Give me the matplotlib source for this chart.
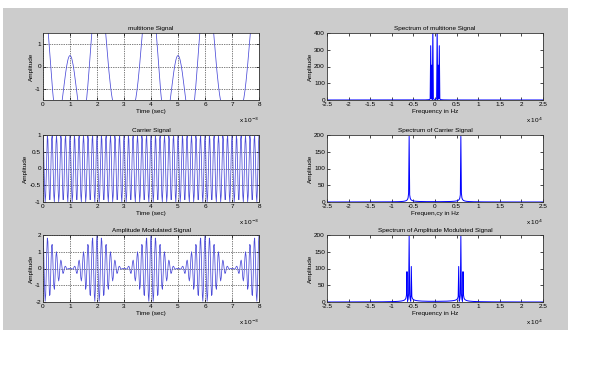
import numpy as np
import matplotlib
matplotlib.use('Agg')
import matplotlib.pyplot as plt
from matplotlib.patches import Rectangle

plt.rcParams['font.family'] = ['Liberation Sans', 'DejaVu Sans']

# ---- signal parameters ----
fs = 50000.0                      # sampling rate, Hz (spectrum spans +-2.5e4)
t_end = 8e-3                      # seconds
tone_freqs = [500.0, 750.0, 1000.0]      # multitone components, Hz
tone_amps = [2.17, 1.04, 1.62]
tone_phases = [0.0, np.pi / 2, 0.0]
carrier_freq = 6000.0
carrier_amp = 1.0
mod_freq = 500.0
mod_index = 1.0

titles = ["multitone Signal", "Spectrum of multitone Signal",
          "Carrier Signal", "Spectrum of Carrier Signal",
          "Amplitude Modulated Signal", "Spectrum of Amplitude Modulated Signal"]
freq_labels = ["Frequency in Hz", "Frequen,cy in Hz", "Frequency in Hz"]
time_yticks = [[-1, 0, 1], [-1, -0.5, 0, 0.5, 1], [-2, -1, 0, 1, 2]]
time_ylims = [(-1.5, 1.5), (-1, 1), (-2, 2)]
spec_yticks = [[0, 100, 200, 300, 400], [0, 50, 100, 150, 200], [0, 50, 100, 150, 200]]
time_xticks = [0, 1, 2, 3, 4, 5, 6, 7, 8]
freq_xticks = [-2.5, -2, -1.5, -1, -0.5, 0, 0.5, 1, 1.5, 2, 2.5]

t = np.arange(0, t_end + 1e-12, 1 / fs)
m = sum(a * np.cos(2 * np.pi * f * t + p) for f, a, p in zip(tone_freqs, tone_amps, tone_phases))
c = carrier_amp * np.cos(2 * np.pi * carrier_freq * t)
am = (1 + mod_index * np.cos(2 * np.pi * mod_freq * t)) * c
N = len(t)
freqs = np.fft.fftshift(np.fft.fftfreq(N, 1 / fs))
signals = [m, c, am]
spectra = [np.abs(np.fft.fftshift(np.fft.fft(s))) for s in signals]

fig = plt.figure(figsize=(6.02, 3.71), dpi=100)
fig.patch.set_facecolor('white')
fig.patches.append(Rectangle((3 / 602, 1 - 330 / 371), 565 / 602, 322 / 371,
                             transform=fig.transFigure, facecolor='#cccccc',
                             edgecolor='none', zorder=-10))

W, H = 602.0, 371.0
lefts = [43, 327]
tops = [33, 135, 235]
aw, ah = 216, 67
FS = 4.6

def style(ax):
    ax.tick_params(direction='in', length=2, width=0.5, labelsize=FS, pad=1.5,
                   top=True, right=True)
    for s in ax.spines.values():
        s.set_linewidth(0.6)
        s.set_color('#333333')

for i in range(3):
    # time domain
    ax = fig.add_axes([lefts[0] / W, 1 - (tops[i] + ah) / H, aw / W, ah / H])
    ax.plot(t, signals[i], color='#4a4ad8', lw=0.55)
    ax.set_xlim(0, t_end)
    ax.set_ylim(*time_ylims[i])
    ax.set_xticks([v * 1e-3 for v in time_xticks])
    ax.set_xticklabels([str(v) for v in time_xticks])
    ax.set_yticks(time_yticks[i])
    ax.set_yticklabels([('%g' % v) for v in time_yticks[i]])
    ax.grid(True, color='black', linestyle=(0, (1, 1.5)), linewidth=0.5)
    ax.set_title(titles[2 * i], fontsize=FS, pad=2.5)
    ax.set_xlabel("Time (sec)", fontsize=FS, labelpad=1.5)
    ax.set_ylabel("Amplitude", fontsize=FS, labelpad=1)
    ax.text(1.0, -0.24, r"x 10$^{-3}$", transform=ax.transAxes, fontsize=FS,
            ha='right', va='top')
    style(ax)

    # spectrum
    ax = fig.add_axes([lefts[1] / W, 1 - (tops[i] + ah) / H, aw / W, ah / H])
    ax.plot(freqs, spectra[i], color='#0000ff', lw=0.7)
    ax.set_xlim(-2.5e4, 2.5e4)
    ax.set_ylim(spec_yticks[i][0], spec_yticks[i][-1])
    ax.set_xticks([v * 1e4 for v in freq_xticks])
    ax.set_xticklabels([('%g' % v) for v in freq_xticks])
    ax.set_yticks(spec_yticks[i])
    ax.set_yticklabels([str(v) for v in spec_yticks[i]])
    ax.set_title(titles[2 * i + 1], fontsize=FS, pad=2.5)
    ax.set_xlabel(freq_labels[i], fontsize=FS, labelpad=1.5)
    ax.set_ylabel("Amplitude", fontsize=FS, labelpad=1)
    ax.text(1.0, -0.24, r"x 10$^{4}$", transform=ax.transAxes, fontsize=FS,
            ha='right', va='top')
    style(ax)

fig.savefig('out.png', dpi=100)
